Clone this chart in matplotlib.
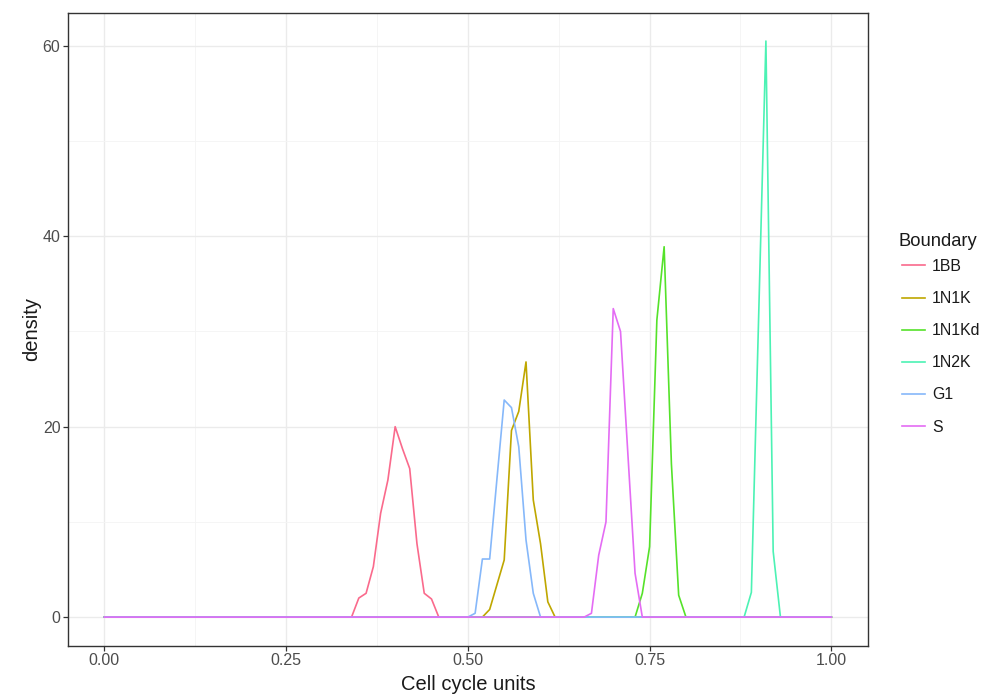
import matplotlib
matplotlib.use('Agg')
import matplotlib.pyplot as plt
from matplotlib.ticker import MultipleLocator

plt.rcParams['font.family'] = ['Liberation Sans', 'DejaVu Sans']

# density curves (grid step 0.01, zero elsewhere on 0..1)
bb_x = [0.34, 0.35, 0.36, 0.37, 0.38, 0.39, 0.40, 0.41, 0.42, 0.43, 0.44, 0.45, 0.46]
bb_y = [0, 2.0, 2.5, 5.3, 10.9, 14.4, 20.0, 17.7, 15.6, 7.7, 2.5, 1.9, 0]

n1k_x = [0.52, 0.53, 0.54, 0.55, 0.56, 0.57, 0.58, 0.59, 0.60, 0.61, 0.62]
n1k_y = [0, 0.8, 3.4, 6.0, 19.6, 21.6, 26.8, 12.3, 7.7, 1.6, 0]

n1kd_x = [0.73, 0.74, 0.75, 0.76, 0.77, 0.78, 0.79, 0.80]
n1kd_y = [0, 2.5, 7.4, 31.2, 38.9, 16.1, 2.3, 0]

n2k_x = [0.88, 0.89, 0.90, 0.91, 0.92, 0.93]
n2k_y = [0, 2.6, 31.5, 60.5, 6.9, 0]

g1_x = [0.50, 0.51, 0.52, 0.53, 0.54, 0.55, 0.56, 0.57, 0.58, 0.59, 0.60]
g1_y = [0, 0.4, 6.1, 6.1, 14.5, 22.8, 22.0, 17.9, 8.1, 2.5, 0]

s_x = [0.66, 0.67, 0.68, 0.69, 0.70, 0.71, 0.72, 0.73, 0.74]
s_y = [0, 0.4, 6.5, 10.0, 32.4, 30.0, 17.3, 4.6, 0]

labels = ['1BB', '1N1K', '1N1Kd', '1N2K', 'G1', 'S']
colors = ['#FA6A8C', '#BFA700', '#55E22A', '#4CF2B4', '#86B8FA', '#E46CF4']
series = [(bb_x, bb_y), (n1k_x, n1k_y), (n1kd_x, n1kd_y),
          (n2k_x, n2k_y), (g1_x, g1_y), (s_x, s_y)]

W, H = 986, 695
fig = plt.figure(figsize=(W / 100, H / 100), dpi=100)
ax = fig.add_axes([0.069, 0.071, 0.811, 0.911])

for (xs, ys), lab, col in zip(series, labels, colors):
    ax.plot([0.0] + xs + [1.0], [0] + ys + [0], color=col, lw=1.2, label=lab)

ax.set_xlim(-0.05, 1.05)
ax.set_ylim(-3.0, 63.5)
ax.xaxis.set_minor_locator(MultipleLocator(0.125))
ax.yaxis.set_major_locator(MultipleLocator(20))
ax.yaxis.set_minor_locator(MultipleLocator(10))
ax.set_xticks([0, 0.25, 0.5, 0.75, 1.0])
ax.set_xticklabels(['0.00', '0.25', '0.50', '0.75', '1.00'])

ax.grid(which='major', color='#EBEBEB', lw=1.0)
ax.grid(which='minor', color='#F4F4F4', lw=0.6)
ax.set_axisbelow(True)
for sp in ax.spines.values():
    sp.set_color('#333333')
    sp.set_linewidth(1.0)
ax.tick_params(which='major', length=3.5, width=0.9, pad=2, color='#333333',
               labelcolor='#4D4D4D', labelsize=11.5)
ax.tick_params(which='minor', length=0)

ax.set_xlabel('Cell cycle units', fontsize=14.5, labelpad=5, color='#1A1A1A')
ax.set_ylabel('density', fontsize=14.5, labelpad=1, color='#1A1A1A')

# legend: title placed on its own, keys below it
fig.text(898 / W, 1 - 241 / H, 'Boundary', fontsize=13.2, color='#1A1A1A', ha='left', va='center')
leg = ax.legend(loc='upper left', bbox_to_anchor=(902 / W, 1 - 259 / H), bbox_transform=fig.transFigure,
                frameon=False, fontsize=11.4, handlelength=1.45, labelspacing=1.08,
                handletextpad=0.45, borderpad=0, borderaxespad=0)
for t in leg.get_texts():
    t.set_color('#1A1A1A')

fig.savefig('out.png', dpi=100)
